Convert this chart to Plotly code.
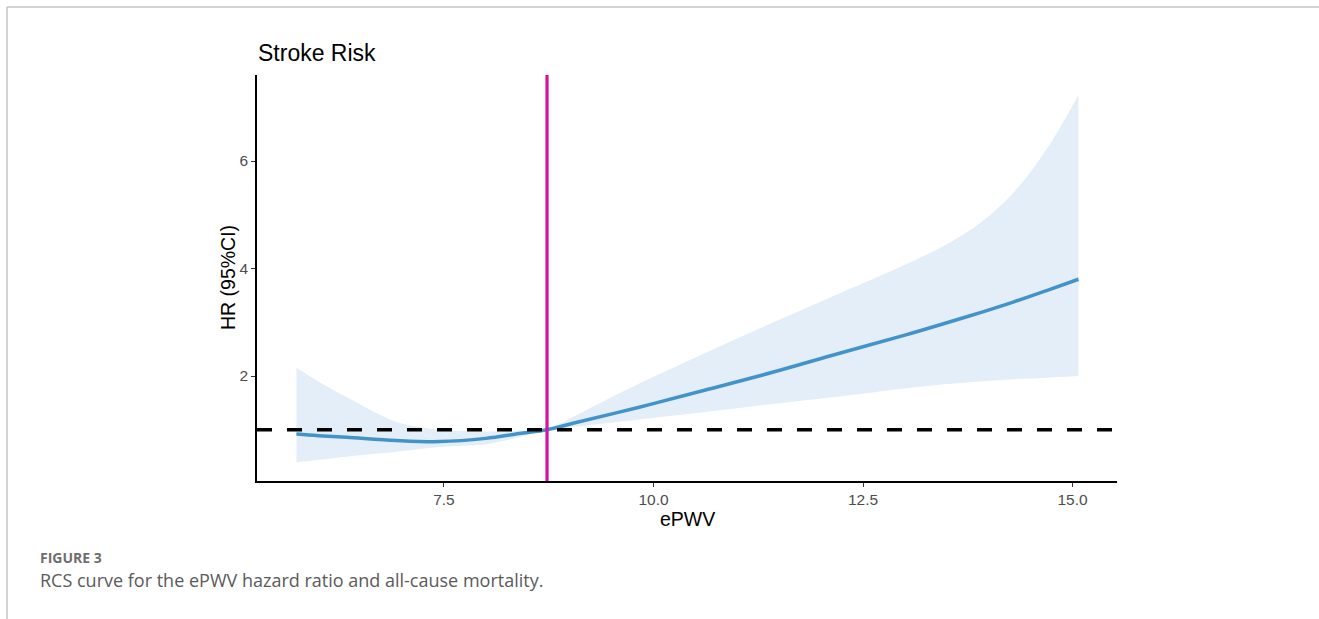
import plotly.graph_objects as go

# ---- data ----
epwv = [5.74, 6.0, 6.34, 6.93, 7.45, 8.0, 8.4, 8.73, 9.04, 9.83, 10.62, 11.42, 12.21, 13.0, 13.5, 13.9, 14.3, 14.69, 15.07]
hr = [0.92, 0.89, 0.86, 0.80, 0.78, 0.84, 0.93, 1.00, 1.12, 1.42, 1.74, 2.07, 2.42, 2.76, 2.99, 3.18, 3.38, 3.59, 3.80]
hr_upper = [2.16, 1.90, 1.61, 1.15, 1.00, 0.97, 0.98, 1.00, 1.24, 1.86, 2.43, 2.99, 3.53, 4.07, 4.45, 4.85, 5.42, 6.22, 7.23]
hr_lower = [0.39, 0.44, 0.50, 0.59, 0.68, 0.73, 0.86, 1.00, 1.05, 1.19, 1.33, 1.48, 1.62, 1.77, 1.85, 1.90, 1.94, 1.97, 2.00]
ref_hr = 1.0
cutoff = 8.73
x_ticks = [7.5, 10.0, 12.5, 15.0]
y_ticks = [2, 4, 6]

title_text = "Stroke Risk"
x_title = "ePWV"
y_title = "HR (95%CI)"
fig_label = "FIGURE 3"
caption = "RCS curve for the ePWV hazard ratio and all-cause mortality."

# ---- layout geometry ----
W, H = 1319, 619
L, R, T, B = 257, 1117, 75, 481


def px(xp):
    return (xp - L) / (R - L)


def py(yp):
    return (B - yp) / (B - T)


CURVE = "#4393CB"
RIBBON = "#E3EEF8"
MAGENTA = "#D3129F"
FONT = "Liberation Sans, Arial, sans-serif"
CAP_FONT = "Open Sans, Lato, sans-serif"

fig = go.Figure()
fig.add_trace(go.Scatter(x=epwv, y=hr_lower, mode="lines", line=dict(width=0, shape="spline", color=RIBBON),
                         hoverinfo="skip", showlegend=False))
fig.add_trace(go.Scatter(x=epwv, y=hr_upper, mode="lines", line=dict(width=0, shape="spline", color=RIBBON),
                         fill="tonexty", fillcolor=RIBBON, hoverinfo="skip", showlegend=False))
fig.add_trace(go.Scatter(x=epwv, y=hr, mode="lines", line=dict(width=3.5, shape="spline", color=CURVE),
                         showlegend=False))

# reference line HR = 1 and cutoff line
fig.add_shape(type="line", xref="paper", yref="y", x0=0, x1=1, y0=ref_hr, y1=ref_hr,
              line=dict(color="black", width=3.5, dash="15px,15px"))
fig.add_shape(type="line", xref="x", yref="paper", x0=cutoff, x1=cutoff, y0=0, y1=1,
              line=dict(color=MAGENTA, width=3.2))

# figure frame lines
BORDER = "#C4C4C4"
fig.add_shape(type="line", xref="paper", yref="paper", x0=px(7), x1=px(W + 5), y0=py(7), y1=py(7),
              line=dict(color=BORDER, width=1.5))
fig.add_shape(type="line", xref="paper", yref="paper", x0=px(7), x1=px(7), y0=py(7), y1=py(H + 5),
              line=dict(color=BORDER, width=1.5))

fig.update_layout(
    width=W, height=H,
    margin=dict(l=L, r=W - R, t=T, b=H - B),
    paper_bgcolor="white", plot_bgcolor="white",
    font=dict(family=FONT),
    showlegend=False,
    xaxis=dict(range=[5.27, 15.53], tickvals=x_ticks, ticktext=[f"{v:.1f}" for v in x_ticks],
               showgrid=False, zeroline=False, showline=True, linecolor="black", linewidth=1.5,
               ticks="outside", ticklen=4, tickwidth=1, tickcolor="#333333",
               tickfont=dict(size=15.5, color="#4D4D4D", family=FONT)),
    yaxis=dict(range=[0.047, 7.6], tickvals=y_ticks, ticktext=[str(v) for v in y_ticks],
               showgrid=False, zeroline=False, showline=True, linecolor="black", linewidth=1.5,
               ticks="outside", ticklen=4, tickwidth=1, tickcolor="#333333",
               tickfont=dict(size=15.5, color="#4D4D4D", family=FONT)),
)

fig.add_annotation(text=title_text, xref="paper", yref="paper", x=px(256), y=py(53),
                   xanchor="left", yanchor="middle", showarrow=False,
                   font=dict(size=23, color="black", family=FONT))
fig.add_annotation(text=x_title, xref="paper", yref="paper", x=0.5, y=py(519),
                   xanchor="center", yanchor="middle", showarrow=False,
                   font=dict(size=19.5, color="black", family=FONT))
fig.add_annotation(text=y_title, xref="paper", yref="paper", x=px(228), y=0.5, textangle=-90,
                   xanchor="center", yanchor="middle", showarrow=False,
                   font=dict(size=19.5, color="black", family=FONT))
fig.add_annotation(text="<b>" + fig_label + "</b>", xref="paper", yref="paper", x=px(38), y=py(557),
                   xanchor="left", yanchor="middle", showarrow=False,
                   font=dict(size=14, color="#6E6E6E", family=CAP_FONT))
fig.add_annotation(text=caption, xref="paper", yref="paper", x=px(38), y=py(580),
                   xanchor="left", yanchor="middle", showarrow=False,
                   font=dict(size=18, color="#5A5A5A", family=CAP_FONT))

fig.write_html("out.html", config={"displayModeBar": False},
               post_script="document.body.style.margin='0';document.body.style.padding='0';")
